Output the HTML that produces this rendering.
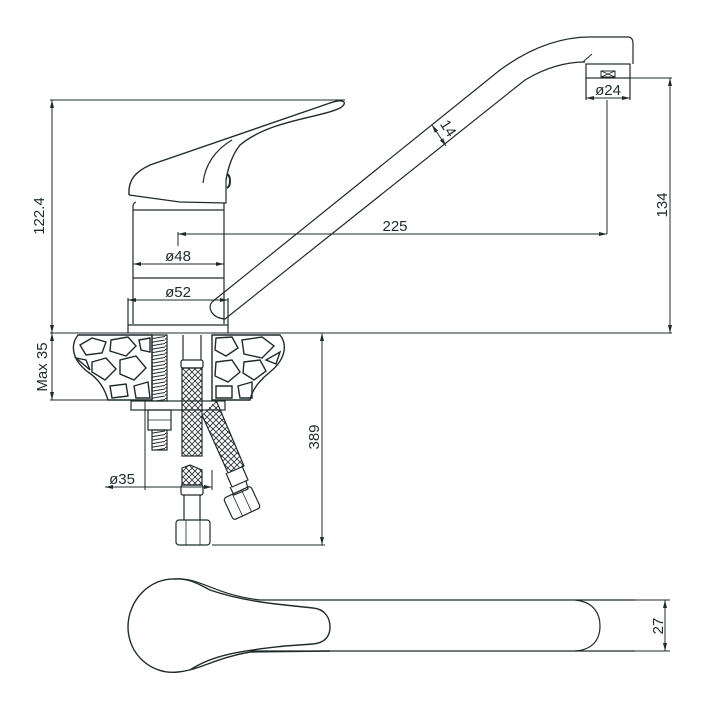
<!DOCTYPE html>
<html><head><meta charset="utf-8"><style>
html,body{margin:0;padding:0;background:#fff}
svg{display:block}
text{font-family:"Liberation Sans",sans-serif;font-size:15px;fill:#1f2b2b}
</style></head><body>
<svg width="709" height="713" viewBox="0 0 709 713" xmlns="http://www.w3.org/2000/svg">
<defs>
<marker id="a" markerWidth="8" markerHeight="6" refX="8" refY="3" orient="auto-start-reverse" markerUnits="userSpaceOnUse"><path d="M0,1 L8,3 L0,5" fill="#1f2b2b"/></marker>
<pattern id="mesh" width="6" height="6" patternUnits="userSpaceOnUse"><path d="M0,0 L6,6 M6,0 L0,6" stroke="#1f2b2b" stroke-width="0.8"/></pattern>
<pattern id="thr" width="15" height="3.5" patternUnits="userSpaceOnUse"><path d="M0,3 L15,0.5" stroke="#1f2b2b" stroke-width="1"/></pattern>
</defs>
<g fill="none" stroke="#1f2b2b" stroke-width="1.2">
<line x1="50" y1="100" x2="345" y2="100" stroke-width="1"/>
<line x1="52" y1="100" x2="52" y2="333" stroke-width="1" marker-start="url(#a)" marker-end="url(#a)"/>
<line x1="50" y1="333" x2="672" y2="333" stroke-width="1"/>
<path d="M129,195 C128,180 135,172 150,165 L330,103 C345,98 348,103 340,108 C320,118 270,120 240,145 C232,155 228,168 226,180" stroke-width="1.4"/>
<path d="M203,183 C205,165 215,150 232,140"/>
<path d="M129,195 L180,202 L226,203 L226,180"/>
<path d="M227,174 C231,176 231,186 227,188" stroke-width="2"/>
<path d="M133,207 C133,204 134,203 136,202 M133,207 L133,324 M224,203 L224,324"/>
<line x1="133" y1="210" x2="224" y2="210"/>
<line x1="133" y1="278" x2="224" y2="278"/>
<line x1="133" y1="264" x2="224" y2="264" stroke-width="1" marker-start="url(#a)" marker-end="url(#a)"/>
<line x1="128" y1="298" x2="128" y2="333"/><line x1="228" y1="298" x2="228" y2="333"/>
<line x1="128" y1="300" x2="228" y2="300" stroke-width="1" marker-start="url(#a)" marker-end="url(#a)"/>
<line x1="128" y1="325" x2="228" y2="325"/>
<line x1="178" y1="232" x2="178" y2="246" stroke-width="1"/>
<line x1="178" y1="234" x2="607" y2="234" stroke-width="1" marker-start="url(#a)" marker-end="url(#a)"/>
<line x1="607" y1="100" x2="607" y2="234" stroke-width="1"/>
<path d="M212,302 C207,308 212,318 225,319 L525,80 C550,65 570,62 585,62" />
<path d="M212,302 L500,70 C530,48 560,37 590,37 L628,37 C632,37 633,40 633,44 L633,64"/>
<line x1="583" y1="62" x2="592" y2="54" stroke-width="1"/>
<rect x="586" y="64" width="44" height="14"/>
<path d="M586,78 L586,100 M630,78 L630,100"/>
<line x1="630" y1="78" x2="672" y2="78" stroke-width="1"/>
<rect x="601" y="71" width="14" height="6" stroke-width="1"/><path d="M601,71 L615,77 M615,71 L601,77" stroke-width="0.8"/>
<line x1="586" y1="98" x2="630" y2="98" stroke-width="1" marker-start="url(#a)" marker-end="url(#a)"/>
<line x1="432" y1="125" x2="446" y2="146" stroke-width="1" marker-start="url(#a)" marker-end="url(#a)"/>
<line x1="670" y1="78" x2="670" y2="333" stroke-width="1" marker-start="url(#a)" marker-end="url(#a)"/>
<line x1="52" y1="333" x2="52" y2="400" stroke-width="1" marker-start="url(#a)" marker-end="url(#a)"/>
<line x1="50" y1="400" x2="110" y2="400" stroke-width="1"/>
<path d="M78,335 C70,345 72,360 88,372 C100,380 105,390 108,400 L152,400 L152,335 Z" stroke-width="1.4"/>
<path d="M212,335 L212,400 L250,400 C252,390 260,380 270,372 C285,360 288,345 280,335 Z" stroke-width="1.4"/>
<g stroke-width="1.4">
<path d="M80,345 L92,338 L106,342 L102,353 L86,355 Z M111,340 L128,337 L136,346 L126,356 L110,351 Z M139,340 L150,338 L150,352 L141,350 Z M76,358 L86,360 L90,370 Z M92,362 L106,358 L116,369 L105,380 L92,372 Z M120,360 L136,356 L146,368 L134,380 L120,374 Z M110,386 L126,384 L128,396 L112,398 Z M134,386 L148,382 L150,398 L136,398 Z"/>
<path d="M216,338 L232,337 L238,348 L226,356 L215,350 Z M242,340 L262,337 L274,346 L262,358 L244,354 Z M266,360 L280,352 L276,364 Z M216,362 L232,360 L240,372 L228,382 L215,376 Z M244,362 L260,360 L266,371 L254,380 L243,373 Z M216,386 L232,386 L232,398 L216,398 Z M238,386 L252,382 L252,398 L240,398 Z"/>
</g>
<rect x="131" y="401" width="94" height="9"/>
<rect x="152" y="335" width="15" height="66" fill="url(#thr)"/>
<rect x="152" y="430" width="15" height="20" fill="url(#thr)"/>
<rect x="148" y="410" width="23" height="20"/>
<line x1="148" y1="420" x2="171" y2="420" stroke-width="0.8"/>
<path d="M183,335 L183,360 M201,335 L201,360"/>
<rect x="181" y="360" width="22" height="8" rx="2"/>
<rect x="182" y="368" width="20" height="88" fill="url(#mesh)"/>
<path d="M182,468 L190,465 L202,470 L202,485 L182,485 Z" fill="url(#mesh)"/>
<rect x="181" y="485" width="22" height="10" rx="2"/>
<path d="M184,495 L184,520 M200,495 L200,520"/>
<rect x="176" y="520" width="34" height="25" rx="3"/>
<path d="M186,520 L186,545 M200,520 L200,545" stroke-width="0.8"/>
<path d="M202,415 L228,473 L244,466 L216,400" fill="url(#mesh)" stroke-width="1.2"/>
<path d="M226,473 L232,487 L248,480 L242,466"/>
<path d="M230,487 L234,495 L248,489 L246,481"/>
<g transform="translate(242,503) rotate(-25)"><rect x="-15" y="-12" width="30" height="24" rx="3"/><line x1="-5" y1="-12" x2="-5" y2="12" stroke-width="0.8"/><line x1="5" y1="-12" x2="5" y2="12" stroke-width="0.8"/></g>
<line x1="145" y1="400" x2="145" y2="490" stroke-width="1"/>
<line x1="212" y1="470" x2="212" y2="490" stroke-width="1"/>
<line x1="105" y1="487" x2="212" y2="487" stroke-width="1" marker-start="url(#a)" marker-end="url(#a)"/>
<line x1="322" y1="333" x2="322" y2="545" stroke-width="1" marker-start="url(#a)" marker-end="url(#a)"/>
<line x1="212" y1="545" x2="325" y2="545" stroke-width="1"/>
<path d="M175,579 C150,578 128,600 128,627 C128,655 152,675 178,672 C200,670 215,658 250,652 L330,651" stroke-width="1.4"/>
<path d="M175,579 C190,578 200,585 210,590 C230,597 255,602 285,605 L313,608 C325,609 330,618 330,627 C330,636 325,643 313,644 L285,646 C250,650 215,653 190,670" stroke-width="1.4"/>
<path d="M175,579 C200,577 215,595 260,600 L635,600"/>
<line x1="250" y1="651" x2="635" y2="651"/>
<path d="M575,600 C595,602 600,615 600,626 C600,640 592,650 575,651"/>
<line x1="632" y1="600" x2="670" y2="600" stroke-width="1"/>
<line x1="632" y1="651" x2="670" y2="651" stroke-width="1"/>
<line x1="665" y1="600" x2="665" y2="651" stroke-width="1" marker-start="url(#a)" marker-end="url(#a)"/>
</g>
<text x="44" y="216" transform="rotate(-90 44 216)" text-anchor="middle">122.4</text>
<text x="178" y="261" text-anchor="middle">ø48</text>
<text x="178" y="297" text-anchor="middle">ø52</text>
<text x="395" y="231" text-anchor="middle">225</text>
<text x="608" y="95" text-anchor="middle">ø24</text>
<text x="444" y="131" transform="rotate(57 444 131)" text-anchor="middle">14</text>
<text x="667" y="205" transform="rotate(-90 667 205)" text-anchor="middle">134</text>
<text x="47" y="367" transform="rotate(-90 47 367)" text-anchor="middle">Max 35</text>
<text x="122" y="484" text-anchor="middle">ø35</text>
<text x="319" y="437" transform="rotate(-90 319 437)" text-anchor="middle">389</text>
<text x="663" y="626" transform="rotate(-90 663 626)" text-anchor="middle">27</text>
</svg>
</body></html>
